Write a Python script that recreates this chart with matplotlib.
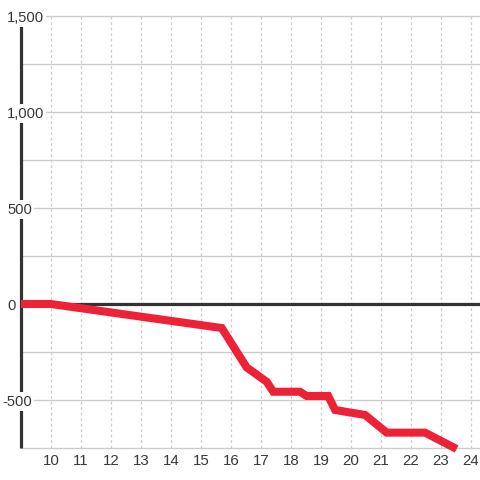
import matplotlib
matplotlib.use("Agg")
import matplotlib.pyplot as plt
import matplotlib.transforms as mtransforms

# ---- data ----
x_vals = [9.0, 10.0, 15.69, 16.52, 17.19, 17.41, 18.3, 18.52, 19.24, 19.47,
          20.47, 21.19, 22.47, 23.52]
y_vals = [0, 0, -125, -330, -405, -457, -457, -479, -479, -552,
          -578, -670, -670, -755]
x_ticks = list(range(10, 25))
y_grid = list(range(-750, 1501, 250))
y_labels = [1500, 1000, 500, 0, -500]

RED = "#ee2236"
DARK = "#333333"
GRID = "#cccccc"
TEXT = "#383838"

plt.rcParams["font.family"] = ["Liberation Sans", "DejaVu Sans"]

fig = plt.figure(figsize=(4.8, 4.8), dpi=100)
W = H = 480
ax = fig.add_axes([21 / W, (H - 448) / H, 1 - 21 / W, (448 - 16) / H])
ax.set_xlim(9, 9 + 459 / 30)
ax.set_ylim(-750, 1500)

for s in ax.spines.values():
    s.set_visible(False)

# grid
ax.hlines(y_grid, 9, ax.get_xlim()[1], colors=GRID, lw=1.0, zorder=1, clip_on=False)
ax.vlines(x_ticks, -750, 1500, colors=GRID, lw=0.9, linestyles=(0, (2.2, 2.2)), zorder=1)

# left axis line + zero line
ax.vlines([9], -750, 1500, colors=DARK, lw=2.3, zorder=3, clip_on=False)
ax.axhline(0, color=DARK, lw=2.3, zorder=3)

# the series
ax.plot(x_vals, y_vals, color=RED, lw=5.8, solid_joinstyle="miter",
        solid_capstyle="butt", zorder=4, clip_on=False)

# x ticks
ax.set_xticks(x_ticks)
ax.set_xticklabels([str(t) for t in x_ticks])
ax.tick_params(axis="x", length=0, pad=4.5, labelsize=10.8, labelcolor=TEXT)
ax.set_yticks([])

# y labels drawn over the axis line with a white box
trans = mtransforms.blended_transform_factory(fig.transFigure, ax.transData)
for v in y_labels:
    txt = f"{v:,}"
    xoff = 7 if v >= 0 else 2
    ax.text(xoff / W, v, txt, transform=trans, ha="left", va="center_baseline",
            fontsize=10.6, color=TEXT, zorder=6, clip_on=False,
            bbox=dict(facecolor="white", edgecolor="none", pad=1.5))

fig.savefig("out.png", dpi=100)
